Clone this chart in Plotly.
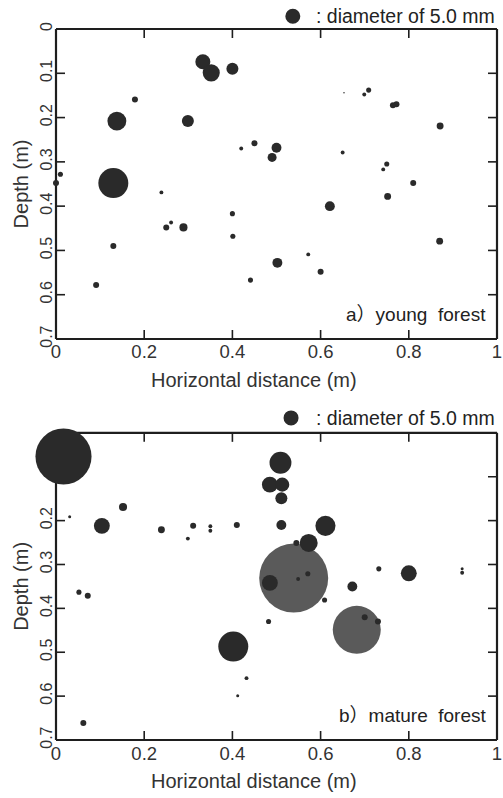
import plotly.graph_objects as go
from plotly.subplots import make_subplots

# ---------------- data ----------------
# a) young forest: horizontal distance (m), depth (m), root diameter (mm)
young_x = [0.333, 0.352, 0.400, 0.179, 0.138, 0.299, 0.420, 0.450, 0.500, 0.490,
           0.650, 0.653, 0.699, 0.709, 0.764, 0.772, 0.871, 0.750, 0.742, 0.810,
           0.752, 0.010, 0.000, 0.130, 0.239, 0.400, 0.621, 0.250, 0.261, 0.289,
           0.401, 0.130, 0.870, 0.502, 0.572, 0.600, 0.441, 0.091]
young_y = [0.074, 0.099, 0.090, 0.159, 0.208, 0.208, 0.270, 0.258, 0.268, 0.290,
           0.279, 0.144, 0.148, 0.138, 0.172, 0.170, 0.219, 0.305, 0.317, 0.348,
           0.378, 0.328, 0.348, 0.348, 0.369, 0.417, 0.400, 0.448, 0.437, 0.448,
           0.468, 0.490, 0.479, 0.528, 0.509, 0.548, 0.567, 0.578]
young_d = [5.0, 5.7, 4.0, 2.0, 6.3, 4.0, 1.3, 2.0, 3.3, 3.0,
           1.3, 0.5, 1.3, 1.7, 2.0, 2.0, 2.3, 1.7, 1.3, 2.0,
           2.3, 1.7, 2.0, 10.0, 1.3, 1.7, 3.3, 2.0, 1.3, 2.7,
           1.7, 2.0, 2.3, 3.3, 1.3, 2.0, 1.7, 2.0]

# b) mature forest (dark roots)
mature_x = [0.017, 0.509, 0.485, 0.513, 0.511, 0.152, 0.031, 0.104, 0.239, 0.299,
            0.311, 0.350, 0.350, 0.410, 0.511, 0.611, 0.573, 0.545, 0.485, 0.549,
            0.571, 0.672, 0.732, 0.800, 0.921, 0.921, 0.052, 0.072, 0.609, 0.482,
            0.700, 0.730, 0.402, 0.432, 0.412, 0.062]
mature_y = [0.054, 0.068, 0.118, 0.118, 0.149, 0.169, 0.191, 0.212, 0.221, 0.241,
            0.212, 0.213, 0.223, 0.210, 0.210, 0.212, 0.251, 0.251, 0.342, 0.333,
            0.321, 0.350, 0.310, 0.320, 0.310, 0.319, 0.363, 0.371, 0.381, 0.430,
            0.420, 0.430, 0.487, 0.559, 0.599, 0.661]
mature_d = [18.7, 7.3, 5.3, 4.7, 4.0, 2.7, 1.0, 5.3, 2.3, 1.3,
            2.0, 1.3, 1.3, 2.0, 3.3, 6.7, 6.0, 2.0, 5.3, 1.3,
            1.7, 3.3, 1.7, 5.3, 1.0, 1.3, 1.7, 2.0, 1.7, 1.7,
            2.0, 2.0, 10.0, 1.3, 1.0, 2.0]

# b) mature forest (grey, large roots)
mature_gx = [0.539, 0.682]
mature_gy = [0.331, 0.449]
mature_gd = [23.0, 16.0]

x_ticks = [0, 0.2, 0.4, 0.6, 0.8, 1]
x_ticktext = ["0", "0.2", "0.4", "0.6", "0.8", "1"]
y_ticks = [0, 0.1, 0.2, 0.3, 0.4, 0.5, 0.6, 0.7]
y_ticktext_top = ["0", "0.1", "0.2", "0.3", "0.4", "0.5", "0.6", "0.7"]
# in panel b the first two labels are hidden under the largest root
y_ticktext_bot = ["", "", "0.2", "0.3", "0.4", "0.5", "0.6", "0.7"]

LEGEND_D = 5.0
PX_PER_MM = 3.0
panel_labels = ["a\uff09young  forest", "b\uff09mature  forest"]
legend_text = ": diameter of 5.0 mm"
x_title = "Horizontal distance (m)"
y_title = "Depth (m)"

# ---------------- figure ----------------
DARK = "#2a2a2a"
GREY = "#5a5a5a"
LINE = "#1e1e1e"
FONT = "Liberation Sans, Arial, Noto Sans CJK SC, sans-serif"

fig = make_subplots(rows=2, cols=1)

def add(x, y, d, color, row):
    fig.add_trace(go.Scatter(
        x=x, y=y, mode="markers", cliponaxis=False, showlegend=False,
        marker=dict(size=d, sizemode="diameter", sizeref=1.0 / PX_PER_MM,
                    color=color, opacity=1, line=dict(width=0)),
    ), row=row, col=1)

add(young_x, young_y, young_d, DARK, 1)
add(mature_gx, mature_gy, mature_gd, GREY, 2)
add(mature_x, mature_y, mature_d, DARK, 2)

top_dom = [0.564, 1.0]
bot_dom = [0.0, 0.432]

for i, dom, ytt in ((1, top_dom, y_ticktext_top), (2, bot_dom, y_ticktext_bot)):
    fig.update_xaxes(row=i, col=1, range=[0, 1], tickmode="array", tickvals=x_ticks,
                     ticktext=x_ticktext,
                     showline=False, ticks="inside", ticklen=9, tickwidth=2,
                     tickcolor="rgba(0,0,0,0)",
                     showgrid=False, zeroline=False, automargin=False,
                     tickfont=dict(size=18.5, family=FONT, color="#333"))
    fig.update_yaxes(row=i, col=1, range=[0.7, 0], domain=dom, tickmode="array",
                     tickvals=y_ticks, ticktext=ytt, tickangle=-90,
                     showline=False, ticks="inside", ticklen=9, tickwidth=2,
                     tickcolor="rgba(0,0,0,0)",
                     showgrid=False, zeroline=False, automargin=False,
                     tickfont=dict(size=16, family=FONT, color="#333"),
                     title=dict(text=y_title, standoff=3,
                                font=dict(size=20, family=FONT, color="#333")))

shapes = []
annotations = []

# frame and inward ticks, drawn as thin filled rectangles
LW = 1.1    # half line width (px)
TW = 0.8    # half tick width (px)
TL = 9      # tick length (px)
for xr, yr in (("x", "y"), ("x2", "y2")):
    xd, yd = xr + " domain", yr + " domain"
    base = dict(type="rect", fillcolor=LINE, line=dict(width=0), layer="below")
    for xa in (0, 1):
        shapes.append(dict(base, xref=xd, yref=yd, xsizemode="pixel", xanchor=xa,
                           x0=-LW, x1=LW, y0=0, y1=1))
    for ya in (0, 1):
        shapes.append(dict(base, xref=xd, yref=yd, ysizemode="pixel", yanchor=ya,
                           y0=-LW, y1=LW, x0=0, x1=1))
    for v in x_ticks[1:-1]:
        shapes.append(dict(base, xref=xr, yref=yd, xsizemode="pixel", ysizemode="pixel",
                           xanchor=v, yanchor=0, x0=-TW, x1=TW, y0=0, y1=TL))
        shapes.append(dict(base, xref=xr, yref=yd, xsizemode="pixel", ysizemode="pixel",
                           xanchor=v, yanchor=1, x0=-TW, x1=TW, y0=-TL, y1=0))
    for v in y_ticks[1:-1]:
        shapes.append(dict(base, xref=xd, yref=yr, xsizemode="pixel", ysizemode="pixel",
                           xanchor=0, yanchor=v, x0=0, x1=TL, y0=-TW, y1=TW))
        shapes.append(dict(base, xref=xd, yref=yr, xsizemode="pixel", ysizemode="pixel",
                           xanchor=1, yanchor=v, x0=-TL, x1=0, y0=-TW, y1=TW))
    # x-axis title (sits slightly left of centre in the original)
    annotations.append(dict(text=x_title, xref=xd, yref=yd, x=0.449, y=0,
                            xanchor="center", yanchor="middle", yshift=-41,
                            showarrow=False,
                            font=dict(size=20, family=FONT, color="#333")))

r = LEGEND_D * PX_PER_MM / 2
for (lx, ly), lab, (xr, yr) in zip([(0.537, 1.018), (0.533, 0.453)], panel_labels,
                                   [("x", "y"), ("x2", "y2")]):
    shapes.append(dict(type="circle", xref="paper", yref="paper",
                       xsizemode="pixel", ysizemode="pixel", xanchor=lx, yanchor=ly,
                       x0=-r, x1=r, y0=-r, y1=r, fillcolor=DARK, line=dict(width=0)))
    annotations.append(dict(text=legend_text, xref="paper", yref="paper", x=1.0, y=ly,
                            xanchor="right", yanchor="middle", showarrow=False,
                            font=dict(size=19.5, family=FONT, color="#222")))
    annotations.append(dict(text=lab, xref=xr, yref=yr, x=0.98, y=0.645,
                            xanchor="right", yanchor="middle", showarrow=False,
                            font=dict(size=19, family=FONT, color="#222")))

fig.update_layout(
    width=503, height=798,
    margin=dict(l=56, r=6, t=29, b=58),
    paper_bgcolor="white", plot_bgcolor="white",
    shapes=shapes, annotations=annotations,
    showlegend=False,
)

fig.write_html("out.html", config={"displayModeBar": False},
               post_script="document.body.style.margin='0';")
